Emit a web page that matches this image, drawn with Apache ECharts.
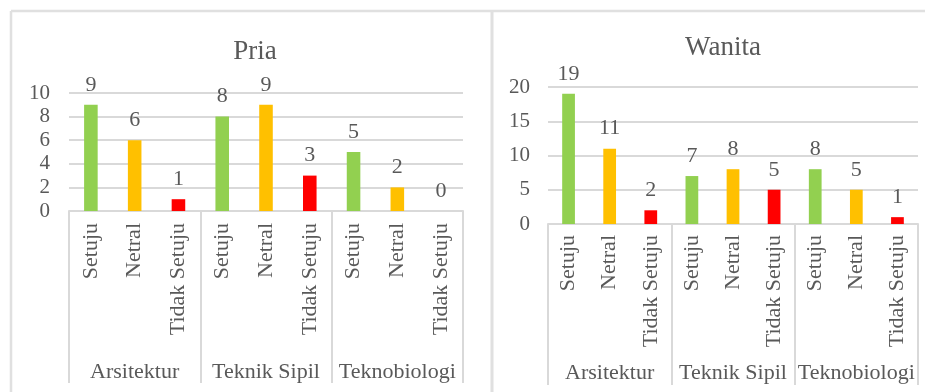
<!DOCTYPE html>
<html>
<head>
<meta charset="utf-8">
<script src="https://cdn.jsdelivr.net/npm/echarts@6/dist/echarts.min.js"></script>
<style>
  html, body { margin: 0; padding: 0; background: #ffffff; }
  #chart { width: 925px; height: 392px; }
</style>
</head>
<body>
<div id="chart"></div>
<script>
// Study programmes (outer axis level) and answer options (inner level)
const programmes = ['Arsitektur', 'Teknik Sipil', 'Teknobiologi'];
const answers = ['Setuju', 'Netral', 'Tidak Setuju'];
const answerColors = ['#92d050', '#ffc000', '#ff0000'];

// Respondent counts, grouped per programme in answer order
const priaCounts = [9, 6, 1, 8, 9, 3, 5, 2, 0];
const wanitaCounts = [19, 11, 2, 7, 8, 5, 8, 5, 1];

// Y axis ranges
const priaAxis = { max: 10, step: 2 };
const wanitaAxis = { max: 20, step: 5 };

const FONT = '"Liberation Serif", "Times New Roman", serif';
const TEXT = '#595959';
const LINE = '#d9d9d9';

const innerLabels = [];
programmes.forEach(() => answers.forEach(a => innerLabels.push(a)));

function barData(values) {
  return values.map((v, i) => ({
    value: v,
    itemStyle: { color: answerColors[i % answers.length] }
  }));
}

function panel(gridIndex, axisCfg, innerMargin, groupMargin, dividerLen, yMargin) {
  const xAxes = [
    {
      type: 'category',
      gridIndex: gridIndex,
      data: innerLabels,
      axisLine: { show: false },
      axisTick: { show: false },
      axisLabel: {
        interval: 0, rotate: 90, margin: innerMargin,
        fontFamily: FONT, fontSize: 22, color: TEXT
      }
    },
    {
      type: 'category',
      gridIndex: gridIndex,
      data: programmes,
      position: 'bottom',
      axisLine: { show: true, lineStyle: { color: LINE, width: 2 } },
      axisTick: {
        show: true, interval: 0, alignWithLabel: false, length: dividerLen,
        lineStyle: { color: LINE, width: 2 }
      },
      axisLabel: {
        interval: 0, margin: groupMargin,
        fontFamily: FONT, fontSize: 22, color: TEXT
      }
    }
  ];
  const yAxis = {
    type: 'value',
    gridIndex: gridIndex,
    min: 0, max: axisCfg.max, interval: axisCfg.step,
    axisLine: { show: false },
    axisTick: { show: false },
    splitLine: { lineStyle: { color: LINE, width: 2 } },
    axisLabel: { margin: yMargin, fontFamily: FONT, fontSize: 21, color: TEXT }
  };
  return { xAxes, yAxis };
}

const left = panel(0, priaAxis, 12, 150, 172, 19);
const right = panel(1, wanitaAxis, 11, 138, 161, 18);

function barSeries(name, values, xIndex, yIndex) {
  return {
    name: name,
    type: 'bar',
    xAxisIndex: xIndex,
    yAxisIndex: yIndex,
    barWidth: '31%',
    data: barData(values),
    label: {
      show: true, position: 'top', distance: 9,
      fontFamily: FONT, fontSize: 22, color: TEXT
    }
  };
}

const chart = echarts.init(document.getElementById('chart'), null, { renderer: 'canvas' });
chart.setOption({
  animation: false,
  backgroundColor: '#ffffff',
  title: [
    {
      text: 'Pria', left: 250, top: 47, textAlign: 'center', textVerticalAlign: 'middle',
      textStyle: { fontFamily: FONT, fontSize: 27, fontWeight: 'normal', color: TEXT }
    },
    {
      text: 'Wanita', left: 718, top: 43, textAlign: 'center', textVerticalAlign: 'middle',
      textStyle: { fontFamily: FONT, fontSize: 27, fontWeight: 'normal', color: TEXT }
    }
  ],
  graphic: [
    { type: 'line', shape: { x1: 11, y1: 11, x2: 925, y2: 11 }, style: { stroke: '#e0e0e0', lineWidth: 2.5 } },
    { type: 'line', shape: { x1: 11, y1: 11, x2: 11, y2: 392 }, style: { stroke: '#e0e0e0', lineWidth: 2.5 } },
    { type: 'line', shape: { x1: 492, y1: 11, x2: 492, y2: 392 }, style: { stroke: '#e0e0e0', lineWidth: 3 } }
  ],
  grid: [
    { left: 69, right: 462, top: 93, bottom: 181 },
    { left: 548, right: 7, top: 87, bottom: 168 }
  ],
  xAxis: left.xAxes.concat(right.xAxes),
  yAxis: [left.yAxis, right.yAxis],
  series: [
    barSeries('Pria', priaCounts, 0, 0),
    barSeries('Wanita', wanitaCounts, 2, 1)
  ]
});
</script>
</body>
</html>
